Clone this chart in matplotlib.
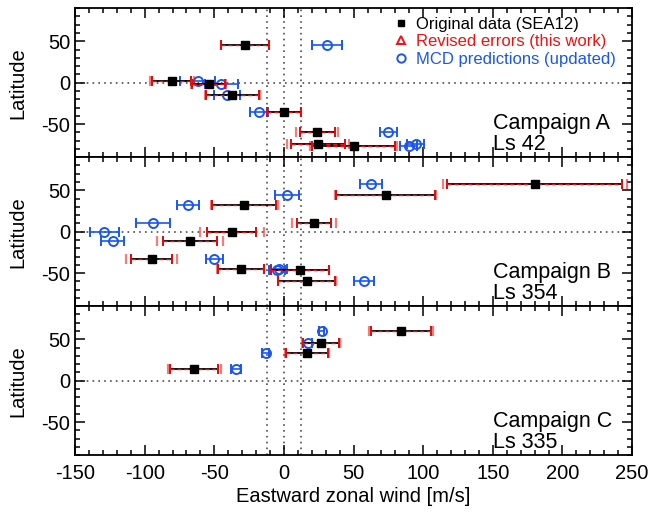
import numpy as np
import matplotlib.pyplot as plt
from matplotlib.lines import Line2D
from matplotlib.ticker import MultipleLocator

plt.rcParams['font.family'] = ['Liberation Sans', 'DejaVu Sans']
plt.rcParams['axes.unicode_minus'] = False

# Campaign A (Ls 42)
lat_a = [46, 1.5, -1, -15, -35, -60, -74, -77]
u_a = [-28, -80.5, -54, -37, 0, 24, 24.5, 50]
err_a = [17, 14, 12, 19, 12, 12.5, 19.5, 29.5]
rev_a = [17.5, 16, 12.5, 19.5, 12, 15, 22, 31]
mcd_lat_a = [46, 1.5, -1, -15, -35, -60, -77, -74]
mcd_u_a = [31, -62, -45, -41, -18, 75, 89.5, 94.5]
mcd_err_a = [11, 12.5, 12, 9.5, 6.5, 6, 6, 6]

# Campaign B (Ls 354)
lat_b = [57, 44, 32.5, 11, 0, -11, -33, -44.5, -46, -60]
u_b = [180, 73, -28.5, 21.5, -37.5, -67.5, -95, -31, 11.5, 16.5]
err_b = [63, 35.5, 23, 12, 17.5, 19.5, 14.5, 16.5, 20.5, 20.5]
rev_b = [66, 36, 24, 16, 23, 24, 18.5, 17, 21, 21]
mcd_lat_b = [57, 44.5, 32.5, 11, 0, -11, -33, -44.5, -46, -60]
mcd_u_b = [62.5, 2, -69, -94, -129, -123, -50, -3.5, -5, 57.5]
mcd_err_b = [8, 8.5, 8, 12.5, 10.5, 8.5, 6, 6, 6, 7]

# Campaign C (Ls 335)
lat_c = [60, 45.5, 33, 14.5]
u_c = [84, 26.5, 16.5, -64.5]
err_c = [21.5, 13, 15, 17.5]
rev_c = [23, 13.5, 15.5, 19]
mcd_lat_c = [60, 45.5, 33, 14.5]
mcd_u_c = [27, 17, -13, -34.5]
mcd_err_c = [2, 3, 2.5, 3.5]

campaigns = [
    ('Campaign A', 'Ls 42', lat_a, u_a, err_a, rev_a, mcd_lat_a, mcd_u_a, mcd_err_a),
    ('Campaign B', 'Ls 354', lat_b, u_b, err_b, rev_b, mcd_lat_b, mcd_u_b, mcd_err_b),
    ('Campaign C', 'Ls 335', lat_c, u_c, err_c, rev_c, mcd_lat_c, mcd_u_c, mcd_err_c),
]

blue = '#1a56f0'
red = '#f01010'

fig = plt.figure(figsize=(6.49, 5.12), dpi=100)
axes = fig.subplots(3, 1, sharex=True)
fig.subplots_adjust(left=0.1156, right=0.974, bottom=0.111, top=0.984, hspace=0)

for ax, (name, ls, lat, u, err, rev, mlat, mu, merr) in zip(axes, campaigns):
    for xv in (-12.5, 0, 12.5):
        ax.axvline(xv, color='0.3', ls=(0, (1, 2.5)), lw=1.2, zorder=1)
    ax.axhline(0, color='0.3', ls=(0, (1, 2.5)), lw=1.2, zorder=1)

    # model predictions
    ax.errorbar(mu, mlat, xerr=merr, fmt='o', ms=6.5, mfc='none', mec=blue,
                mew=1.4, ecolor=blue, elinewidth=1.2, capsize=3.5, capthick=1.2,
                zorder=3)
    # revised error caps, then the original error bars
    ax.errorbar(u, lat, xerr=rev, fmt='none', ecolor=red, elinewidth=0,
                capsize=3.5, capthick=1.6, alpha=0.55, zorder=4)
    ax.errorbar(u, lat, xerr=err, fmt='none', ecolor='black', elinewidth=1.3,
                capsize=3.5, capthick=1.3, zorder=4)
    eb = ax.errorbar(u, lat, xerr=err, fmt='none', ecolor=red, elinewidth=1.0,
                     capsize=3.5, capthick=1.3, zorder=5)
    eb[2][0].set_linestyle((0, (3, 2)))
    ax.plot(u, lat, 's', color='black', ms=5.5, zorder=6)

    ax.text(0.75, 0.223, name, transform=ax.transAxes, fontsize=15.5,
            va='center', ha='left')
    ax.text(0.75, 0.083, ls, transform=ax.transAxes, fontsize=15.5,
            va='center', ha='left')

    ax.set_xlim(-150, 250)
    ax.set_ylim(-90, 90)
    ax.set_yticks([-50, 0, 50])
    ax.xaxis.set_major_locator(MultipleLocator(50))
    ax.xaxis.set_minor_locator(MultipleLocator(10))
    ax.yaxis.set_minor_locator(MultipleLocator(10))
    ax.tick_params(which='both', direction='in', top=True, right=True,
                   labelsize=14.5, width=1.1)
    ax.tick_params(which='major', length=7)
    ax.tick_params(axis='x', pad=6)
    ax.tick_params(which='minor', length=3.5)
    for sp in ax.spines.values():
        sp.set_linewidth(1.3)
    ax.set_ylabel('Latitude', fontsize=14.5, labelpad=10)

axes[-1].set_xlabel('Eastward zonal wind [m/s]', fontsize=14.5, labelpad=3)

handles = [
    Line2D([], [], marker='s', ls='none', color='black', ms=5),
    Line2D([], [], marker='^', ls='none', mfc='none', mec=red, mew=1.4, ms=6),
    Line2D([], [], marker='o', ls='none', mfc='none', mec=blue, mew=1.4, ms=6),
]
labels = ['Original data (SEA12)', 'Revised errors (this work)',
          'MCD predictions (updated)']
leg = axes[0].legend(handles, labels, loc='upper right', frameon=False,
                     fontsize=12, handletextpad=0.3, handlelength=1.2,
                     labelspacing=0.15, borderaxespad=0.1,
                     bbox_to_anchor=(0.985, 1.0))
for txt, c in zip(leg.get_texts(), ['black', red, blue]):
    txt.set_color(c)

fig.savefig('out.png', dpi=100)
